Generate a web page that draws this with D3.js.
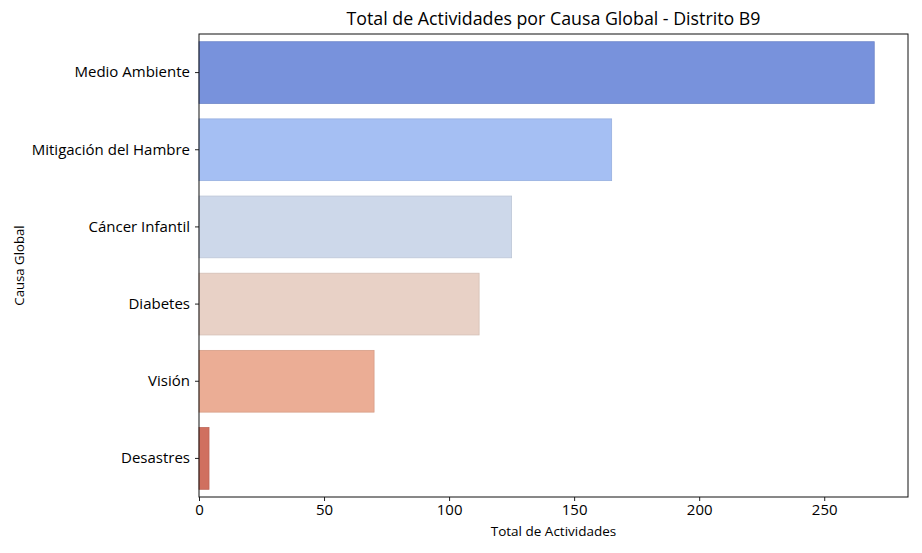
<!DOCTYPE html>
<html>
<head>
<meta charset="utf-8">
<script src="https://cdn.jsdelivr.net/npm/d3@7"></script>
<style>
  body { margin: 0; background: #fff; }
  svg, svg text { font-family: "Open Sans", Roboto, sans-serif; }
</style>
</head>
<body>
<div id="chart"></div>
<script>
const causes = ["Medio Ambiente", "Mitigación del Hambre", "Cáncer Infantil", "Diabetes", "Visión", "Desastres"];
const totals = [270, 165, 125, 112, 70, 4];
const barColors = ["#7892dc", "#a5bff3", "#cdd8ea", "#e8d1c6", "#ebad95", "#d0705f"];
const xTicks = [0, 50, 100, 150, 200, 250];

const FONT = '"Open Sans", Roboto, sans-serif';
const W = 922, H = 553;
const margin = { top: 34, right: 14, bottom: 56, left: 199 };
const innerW = W - margin.left - margin.right;
const innerH = H - margin.top - margin.bottom;

const svg = d3.select("#chart").append("svg")
    .attr("width", W)
    .attr("height", H);

const g = svg.append("g")
    .attr("transform", `translate(${margin.left},${margin.top})`);

// matplotlib style: 5% margin on the right of the largest value
const x = d3.scaleLinear()
    .domain([0, d3.max(totals) * 1.05])
    .range([0, innerW]);

const y = d3.scaleBand()
    .domain(causes)
    .range([0, innerH])
    .paddingInner(0.2)
    .paddingOuter(0.1);

g.selectAll("rect.bar")
    .data(causes)
    .join("rect")
    .attr("class", "bar")
    .attr("x", x(0))
    .attr("y", d => y(d))
    .attr("width", (d, i) => x(totals[i]) - x(0))
    .attr("height", y.bandwidth())
    .attr("fill", (d, i) => barColors[i])
    .attr("stroke", (d, i) => d3.color(barColors[i]).darker(0.25))
    .attr("stroke-width", 0.8);

// x axis
const xAxis = g.append("g")
    .attr("transform", `translate(0,${innerH})`)
    .call(d3.axisBottom(x).tickValues(xTicks).tickSize(4).tickPadding(3).tickSizeOuter(0))
    .attr("font-family", FONT);
xAxis.select(".domain").remove();
xAxis.selectAll("text").attr("font-size", 15).attr("fill", "#000");
xAxis.selectAll("line").attr("stroke", "#222");

// y axis
const yAxis = g.append("g")
    .call(d3.axisLeft(y).tickSize(4).tickPadding(5).tickSizeOuter(0))
    .attr("font-family", FONT);
yAxis.select(".domain").remove();
yAxis.selectAll("text").attr("font-size", 15).attr("fill", "#000");
yAxis.selectAll("line").attr("stroke", "#222");

// frame
g.append("rect")
    .attr("width", innerW)
    .attr("height", innerH)
    .attr("fill", "none")
    .attr("stroke", "#111")
    .attr("stroke-width", 1);

svg.append("text")
    .attr("x", margin.left + innerW / 2)
    .attr("y", 25)
    .attr("text-anchor", "middle")
    .attr("font-size", 17.8)
    .text("Total de Actividades por Causa Global - Distrito B9");

svg.append("text")
    .attr("x", margin.left + innerW / 2)
    .attr("y", 536)
    .attr("text-anchor", "middle")
    .attr("font-size", 13.5)
    .text("Total de Actividades");

svg.append("text")
    .attr("transform", `translate(24,${margin.top + innerH / 2}) rotate(-90)`)
    .attr("text-anchor", "middle")
    .attr("font-size", 13.2)
    .text("Causa Global");
</script>
</body>
</html>
